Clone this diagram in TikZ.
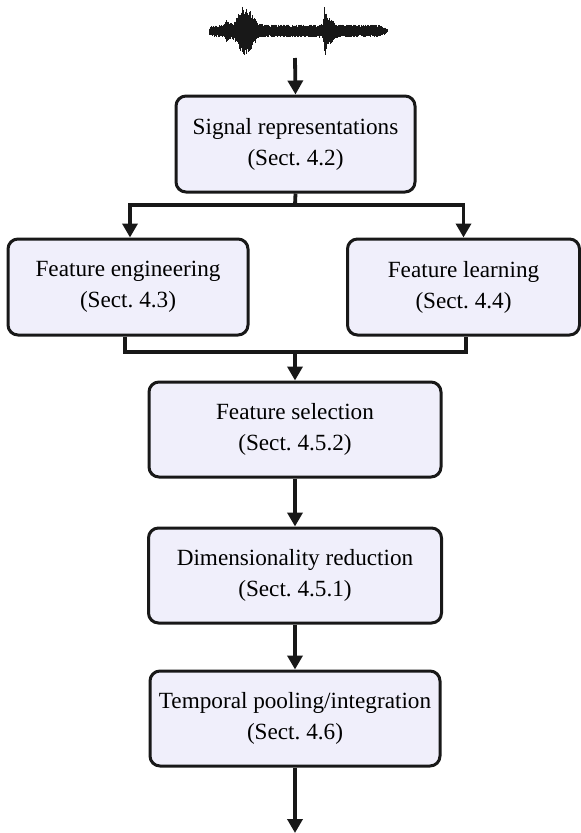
\documentclass[tikz,border=0pt]{standalone}
\usepackage{fontspec}
\setmainfont{Liberation Serif}
\usetikzlibrary{arrows.meta}
\definecolor{boxfill}{RGB}{240,239,251}
\definecolor{ink}{RGB}{24,24,24}
\begin{document}
\begin{tikzpicture}[x=1pt,y=-1pt,
  declare function={bump(\u)=exp(-min((\u)*(\u),9));},
  stage/.style={draw=ink, line width=3pt, fill=boxfill, rounded corners=10pt,
    align=center, inner sep=0pt, font=\fontsize{23.2}{31}\selectfont},
  link/.style={draw=ink, line width=3.8pt},
  tip/.tip={Triangle[width=15pt,length=14pt]},
  flow/.style={link, -tip}]
\useasboundingbox (0,0) rectangle (581,833);

% audio waveform at the top
\pgfmathsetseed{42}
\foreach \x in {209,209.5,...,387.5} {
  \pgfmathsetmacro{\env}{(6.5 + 17*bump((\x-243)/7) + 7*bump((\x-251)/6)
      + 5*bump((\x-227)/2) + 17*bump((\x-325)/1.3) + 7*bump((\x-329)/5))
      * min(1, sqrt(max(0,(388-\x)/10))) * min(1, 0.55+0.45*(\x-209)/6)}
  \pgfmathsetmacro{\up}{\env*(0.6+0.4*rnd)}
  \pgfmathsetmacro{\dn}{\env*(0.6+0.4*rnd)}
  \draw[ink, line width=1pt] (\x,{31-\up}) -- (\x,{31+\dn});
}
\coordinate (wav) at (295,58);

% processing stages
\node[stage, minimum width=239pt, minimum height=96pt] (sig) at (295.5,144)
  {Signal representations\\(Sect.~4.2)};
\node[stage, minimum width=240pt, minimum height=96pt] (fe) at (128,287)
  {Feature engineering\\(Sect.~4.3)};
\node[stage, minimum width=232pt, minimum height=96pt] (fl) at (463.5,287)
  {Feature learning\\(Sect.~4.4)};
\node[stage, minimum width=292pt, minimum height=95pt] (fs) at (295,429.5)
  {Feature selection\\(Sect.~4.5.2)};
\node[stage, minimum width=293pt, minimum height=95pt] (dr) at (295,575.5)
  {Dimensionality reduction\\(Sect.~4.5.1)};
\node[stage, minimum width=290pt, minimum height=95pt] (tp) at (295,718.5)
  {Temporal pooling/integration\\(Sect.~4.6)};

% connectors
\coordinate (split) at (295,205);
\coordinate (merge) at (295,352);
\coordinate (out) at (295,833);
\draw[flow] (wav) -- (sig.north);
\draw[link] (sig.south) -- (split);
\draw[link, tip-tip] ([xshift=2pt]fe.north) |- (split) -| (fl.north);
\draw[link] ([xshift=-3pt]fe.south) |- (merge) -| ([xshift=2.5pt]fl.south);
\draw[flow] (merge) -- (fs.north);
\draw[flow] (fs.south) -- (dr.north);
\draw[flow] (dr.south) -- (tp.north);
\draw[flow] (tp.south) -- (out);
\end{tikzpicture}
\end{document}
